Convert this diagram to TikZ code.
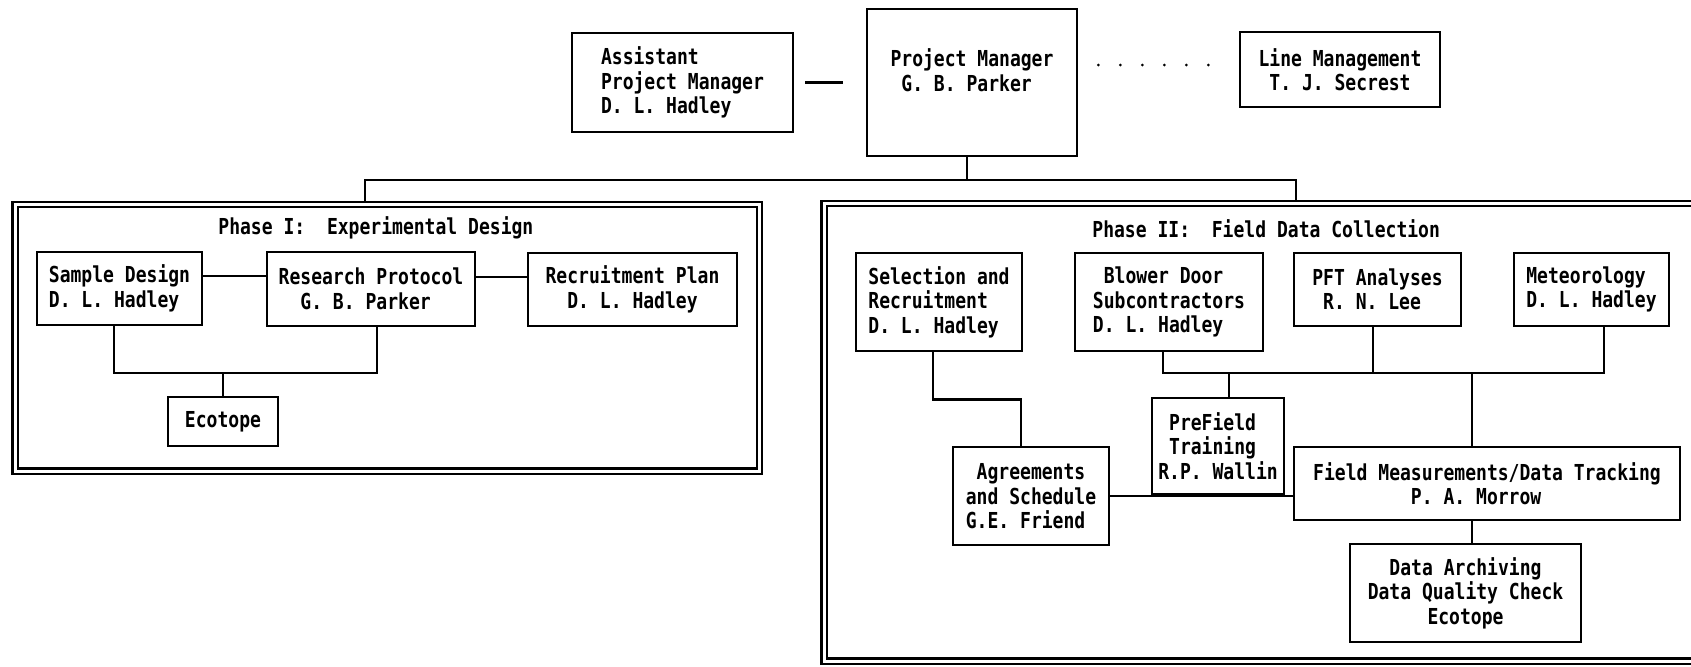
\documentclass[tikz,border=0pt]{standalone}
\usepackage{fontspec}
\usepackage{tikz}
\newfontfamily\chartfont[FakeStretch=0.82]{DejaVu Sans Mono}

\tikzset{
  lbl/.style={font=\chartfont\bfseries\fontsize{11}{12.25}\selectfont\frenchspacing},
  box/.style 2 args={draw, line width=1.3pt, inner sep=0pt, lbl, align=left,
    minimum width=#1*0.5pt, minimum height=#2*0.5pt},
  frame/.style 2 args={draw, double, line width=1.1pt, double distance=1.5pt,
    inner sep=0pt, minimum width=#1*0.5pt, minimum height=#2*0.5pt},
  link/.style={line width=1.3pt},
  dots/.style={line width=1.5pt, line cap=round, dash pattern=on 0pt off 11pt}
}

\begin{document}
\begin{tikzpicture}[x=0.5pt, y=-0.5pt]
\useasboundingbox (0,0) rectangle (1691,666);
\clip (0,0) rectangle (1691,666);

\node[box={221}{99}] (apm) at (682.5,82.5) {Assistant\\Project Manager\\D. L. Hadley};
\node[box={210}{147}, label={[lbl, align=left, anchor=center, yshift=-31.25pt, name=pmtxt]north:{Project Manager\\\phantom{0}G. B. Parker}}] (pm) at (972,82.5) {};
\node[box={200}{75}] (lm) at (1340,69.5) {Line Management\\\phantom{0}T. J. Secrest};

\draw[link, shorten <=5.5pt, shorten >=11.5pt] (apm) -- (pm);
\coordinate (dotL) at ([yshift=8.75pt]pm.east);
\draw[dots, shorten <=10pt, shorten >=15pt] (dotL) -- (dotL -| lm.west);

\node[lbl, anchor=west, inner sep=0pt] (ttlI) at (218,228) {Phase I:~~Experimental Design};
\node[box={165}{73}] (sd) at (119.5,288.5) {Sample Design\\D. L. Hadley};
\node[box={208}{74}] (rp) at (371,289) {Research Protocol\\\phantom{00}G. B. Parker};
\node[box={209}{73}] (rpl) at (632.5,289.5) {Recruitment Plan\\\phantom{00}D. L. Hadley};
\node[box={110}{49}] (eco) at (223,421.5) {Ecotope};

\draw[link] ([yshift=6.25pt]sd.east) -- ++(65,0);
\draw[link] ([yshift=6pt]rp.east) -- ++(53,0);
\coordinate (jA) at (223,373);
\draw[link] ([xshift=-2.75pt]sd.south) |- (jA) -| ([xshift=3pt]rp.south);
\draw[link] (jA) -- (eco);

\node[lbl, anchor=west, inner sep=0pt] (ttlII) at (1092,229) {Phase II:~~Field Data Collection};
\node[box={166}{98}] (sel) at (939,302) {Selection and\\Recruitment\\D. L. Hadley};
\node[box={188}{98}] (bd) at (1169,302) {\phantom{0}Blower Door\\Subcontractors\\D. L. Hadley};
\node[box={167}{73}] (pft) at (1377.5,289.5) {PFT Analyses\\\phantom{0}R. N. Lee};
\node[box={155}{73}] (met) at (1591.5,289.5) {Meteorology\\D. L. Hadley};
\node[box={132}{96}] (pre) at (1218,446) {\phantom{0}PreField\\\phantom{0}Training\\R.P. Wallin};
\node[box={156}{98}] (agr) at (1031,496) {\phantom{0}Agreements\\and Schedule\\G.E. Friend};
\node[box={386}{73}] (fm) at (1487,483.5) {Field Measurements/Data Tracking\\\phantom{000000000}P. A. Morrow};
\node[box={231}{98}, align=center] (arc) at (1465.5,593) {Data Archiving\\Data Quality Check\\Ecotope};

\draw[link] ([xshift=-3pt]sel.south) -- ++(0,47) -| ([xshift=-5pt]agr.north);
\coordinate (jB) at (1472,373);
\draw[link] ([xshift=-3pt]bd.south) |- (jB) -| ([xshift=6.25pt]met.south);
\draw[link] ([xshift=-2.25pt]pft.south) -- ++(0,47);
\draw[link] ([xshift=5.5pt]pre.north) -- ++(0,-25);
\draw[link] (jB) -- (jB |- fm.north);
\draw[link] (jB |- fm.south) -- (jB |- arc.north);
\draw[link] (agr.east) -- (agr.east -| fm.west);

\coordinate (busL) at (365,180);
\coordinate (busR) at (1296,180);
\draw[link] ([xshift=-2.5pt]pm.south) -- ++(0,24);
\draw[link] ([yshift=-12pt]busL) -- (busL) -- (busR) -- ([yshift=-12pt]busR);
\node[frame={744.5}{266.5}] (phaseI) at (387.25,337.75) {};
\node[frame={876}{457.5}] (phaseII) at (1262,432.25) {};

\end{tikzpicture}
\end{document}
